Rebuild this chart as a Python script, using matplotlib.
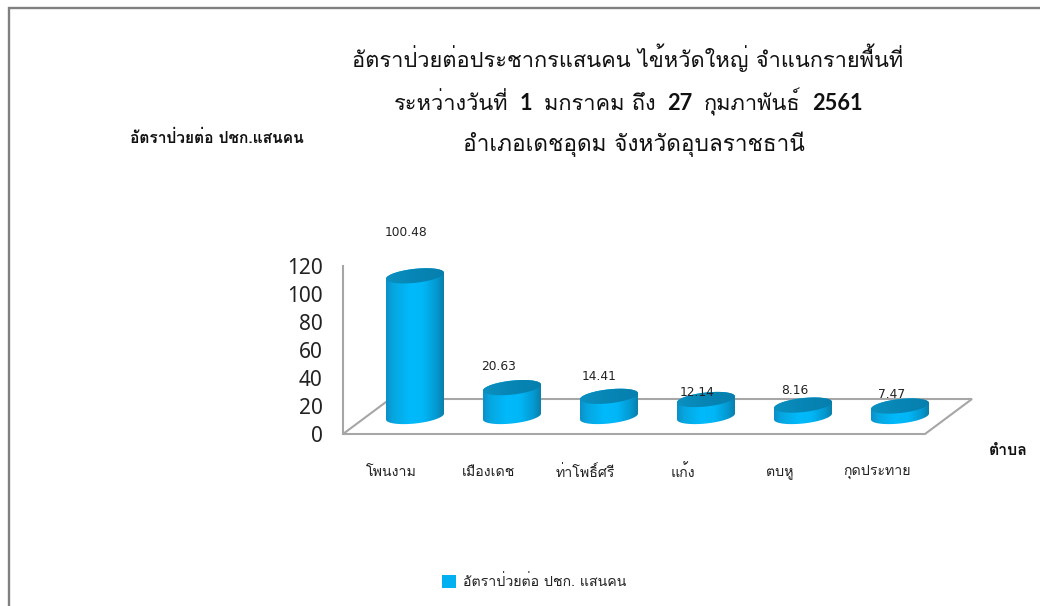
import numpy as np
import matplotlib
matplotlib.use('Agg')
import matplotlib.pyplot as plt
from matplotlib.colors import LinearSegmentedColormap
from matplotlib.patches import Polygon, Patch
from matplotlib.lines import Line2D

categories = ["โพนงาม", "เมืองเดช", "ท่าโพธิ์ศรี", "แก้ง", "ตบหู", "กุดประทาย"]
values = [100.48, 20.63, 14.41, 12.14, 8.16, 7.47]
value_labels = ["100.48", "20.63", "14.41", "12.14", "8.16", "7.47"]
y_ticks = [0, 20, 40, 60, 80, 100, 120]
title_lines = [
    [("อัตราป่วยต่อประชากรแสนคน ไข้หวัดใหญ่ จำแนกรายพื้นที่", False)],
    [("ระหว่างวันที่", False), ("1", True), ("มกราคม ถึง", False), ("27", True), ("กุมภาพันธ์", False), ("2561", True)],
    [("อำเภอเดชอุดม จังหวัดอุบลราชธานี", False)],
]
y_title = "อัตราป่วยต่อ ปชก.แสนคน"
x_title = "ตำบล"
legend_label = "อัตราป่วยต่อ ปชก. แสนคน"

THAI = ['Loma', 'Noto Sans Thai', 'DejaVu Sans']
LATIN_BOLD = ['Lato', 'DejaVu Sans']
W, H = 1040, 606
fig = plt.figure(figsize=(W / 100, H / 100), dpi=100, facecolor='white')

# outer frame
FR = '#808080'
fig.add_artist(Line2D([8.5 / W, 8.5 / W, 1], [0, 1 - 8 / H, 1 - 8 / H], color=FR, lw=1.7, solid_joinstyle='miter'))

L, R, T, B = 343, 925, 266, 434
ax = fig.add_axes([L / W, 1 - B / H, (R - L) / W, (B - T) / H])
ax.set_xlim(0, len(values))
ax.set_ylim(0, 120)
ax.patch.set_visible(False)
for s in ax.spines.values():
    s.set_visible(False)
PX = len(values) / (R - L)
PY = 120 / (B - T)
DX, DY = 47 * PX, 35 * PY
GRID = '#a6a6a6'
floor_x = [0, 0, DX, len(values) + DX, len(values), 0]
floor_y = [120, 0, DY, DY, 0, 0]
ax.plot(floor_x, floor_y, color=GRID, lw=1.5, clip_on=False, zorder=1, solid_joinstyle='miter')

ax.set_yticks(y_ticks)
ax.set_xticks(np.arange(len(values)) + 0.5)
ax.set_xticklabels(categories, family=THAI, fontsize=10.2, color='#222222')
ax.set_yticklabels([str(v) for v in y_ticks], family=['Noto Sans', 'DejaVu Sans'], fontsize=15, color='#222222')
ax.tick_params(axis='y', length=0, pad=14.5)
ax.tick_params(axis='x', length=0, pad=22)

body_cmap = LinearSegmentedColormap.from_list('cyl', [
    (0.0, '#0c90c8'), (0.12, '#06a6e0'), (0.42, '#00bafc'), (0.65, '#00b6f6'), (0.88, '#0598d0'), (1.0, '#0a80aa')])
top_cmap = LinearSegmentedColormap.from_list('cyltop', ['#0a90c0', '#0785b4', '#067fae'])
A, BB, K = 29, 7, 3
for i, v in enumerate(values):
    cx = i + 0.5 + DX / 2
    cy = DY / 2
    t = np.linspace(np.pi, 2 * np.pi, 60)
    front_x = cx + A * PX * np.cos(t)
    front_y = cy + (BB * np.sin(t) + K * np.cos(t)) * PY
    back_t = np.linspace(0, np.pi, 60)
    back_x = cx + A * PX * np.cos(back_t)
    back_y = cy + v + (BB * np.sin(back_t) + K * np.cos(back_t)) * PY
    body = Polygon(np.column_stack([np.r_[front_x, back_x], np.r_[front_y, back_y]]),
                   closed=True, fc='none', ec='none', transform=ax.transData, clip_on=False)
    ax.add_patch(body)
    im = ax.imshow(np.linspace(0, 1, 128)[None, :], cmap=body_cmap, aspect='auto', interpolation='bilinear',
                   extent=[cx - A * PX, cx + A * PX, 0, cy + v + 15 * PY], zorder=3)
    im.set_clip_box(fig.bbox)
    im.set_clip_path(body)
    t2 = np.linspace(0, 2 * np.pi, 120)
    top = np.column_stack([cx + A * PX * np.cos(t2), cy + v + (BB * np.sin(t2) + K * np.cos(t2)) * PY])
    top_patch = Polygon(top, closed=True, fc='none', ec='none', clip_on=False)
    ax.add_patch(top_patch)
    im2 = ax.imshow(np.linspace(0, 1, 64)[None, :], cmap=top_cmap, aspect='auto', interpolation='bilinear',
                    extent=[cx - A * PX, cx + A * PX, cy + v - 10 * PY, cy + v + 10 * PY], zorder=4)
    im2.set_clip_box(fig.bbox)
    im2.set_clip_path(top_patch)
ax.set_xlim(0, len(values))
ax.set_ylim(0, 120)

# manually placed value labels (pixel offset from the bar top, as in the source chart)
label_dx = [-9, -13, -10, -9, -8, -8]
label_top = [232, 366, 377, 393, 391, 394]
for i, (v, s) in enumerate(zip(values, value_labels)):
    ax.annotate(s, xy=(i + 0.5 + DX / 2, v + DY / 2), xycoords='data',
                xytext=(label_dx[i], -(label_top[i] - (B - (v + DY / 2) / PY))),
                textcoords='offset pixels',
                ha='center', va='center', fontsize=8.8, family='DejaVu Sans', color='#222222', zorder=6, clip_on=False)


def run_line(runs, baseline, size, gap_px=9.2):
    r = fig.canvas.get_renderer()
    items = []
    for s, bold in runs:
        tx = fig.text(0, 1 - baseline / H, s, family=LATIN_BOLD if bold else THAI, fontweight='bold' if bold else 'normal',
                      fontsize=size, va='baseline', ha='left', color='#111111')
        items.append(tx)
    widths = [tx.get_window_extent(r).width for tx in items]
    total = sum(widths) + gap_px * (len(items) - 1)
    x = (628 if len(runs) > 1 or baseline < 100 else 634) - total / 2
    for tx, w in zip(items, widths):
        tx.set_x(x / W)
        x += w + gap_px


run_line(title_lines[0], 67, 15.7)
run_line(title_lines[1], 110, 15.7, gap_px=11.5)
run_line(title_lines[2], 151, 16.3)

fig.text(217 / W, 1 - 138 / H, y_title, family=THAI, fontweight='bold', fontsize=11.2, ha='center', va='center', color='#111111')
fig.text(1008 / W, 1 - 451 / H, x_title, family=THAI, fontweight='bold', fontsize=11.4, ha='center', va='center', color='#111111')

fig.legend(handles=[Patch(fc='#00b0f0', ec='none', label=legend_label)], loc='center', bbox_to_anchor=(534.5 / W, 1 - 582 / H),
           frameon=False, prop={'family': THAI, 'size': 10.2}, handlelength=0.95, handleheight=0.95, handletextpad=0.55,
           labelcolor='#222222')
fig.savefig('out.png', dpi=100, facecolor='white')
